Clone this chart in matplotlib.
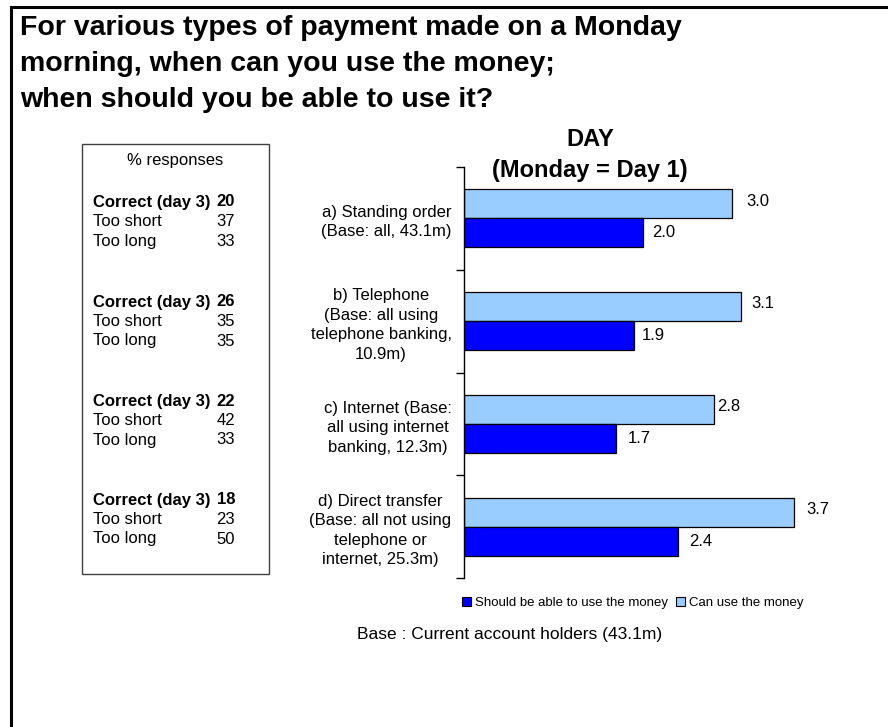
import numpy as np
import matplotlib
matplotlib.use("Agg")
import matplotlib.pyplot as plt
from matplotlib.patches import Rectangle, Patch

plt.rcParams['font.family'] = ['Liberation Sans', 'DejaVu Sans']

# payment types, top to bottom
categories = [
    "a) Standing order\n(Base: all, 43.1m)",
    "b) Telephone\n(Base: all using\ntelephone banking,\n10.9m)",
    "c) Internet (Base:\nall using internet\nbanking, 12.3m)",
    "d) Direct transfer\n(Base: all not using\ntelephone or\ninternet, 25.3m)",
]
can_use = [3.0, 3.1, 2.8, 3.7]
should_use = [2.0, 1.9, 1.7, 2.4]

# % responses panel
correct = [20, 26, 22, 18]
too_short = [37, 35, 42, 23]
too_long = [33, 35, 33, 50]

title_lines = ["For various types of payment made on a Monday",
               "morning, when can you use the money;",
               "when should you be able to use it?"]

LIGHT = "#99CCFF"
DARK = "#0000FF"

W, H = 888, 727
fig = plt.figure(figsize=(W / 100, H / 100), dpi=100)


def fx(x):
    return x / W


def fy(y):
    return 1 - y / H


# outer frame
fig.add_artist(Rectangle((fx(11), fy(H + 10)), fx(W + 20), (H + 3) / H,
                         transform=fig.transFigure, fill=False,
                         edgecolor="black", linewidth=2.2))

for k, line in enumerate(title_lines):
    fig.text(fx(20), fy(28 + 36 * k), line, ha="left", va="center",
             fontsize=20.5, fontweight="bold")

# bar chart
ax_l, ax_r, ax_t, ax_b = 464, 839, 167, 578
ax = fig.add_axes([fx(ax_l), fy(ax_b), fx(ax_r - ax_l), (ax_b - ax_t) / H])
y = np.arange(len(categories))
h = 0.282
ax.barh(y - h / 2, can_use, height=h, color=LIGHT, edgecolor="black", linewidth=0.9)
ax.barh(y + h / 2, should_use, height=h, color=DARK, edgecolor="black", linewidth=0.9)
ax.set_xlim(0, 4.2)
ax.set_ylim(3.5, -0.5)
for s in ["top", "right", "bottom"]:
    ax.spines[s].set_visible(False)
ax.spines["left"].set_linewidth(1.0)
ax.set_xticks([])
ax.set_yticks(y)
ax.set_yticklabels(categories, fontsize=12, multialignment="center", linespacing=1.38)
ax.tick_params(axis="y", which="major", length=0, pad=9)
ax.set_yticks(np.arange(-0.5, 4.0, 1.0), minor=True)
ax.tick_params(axis="y", which="minor", length=6, width=1.0)

# value labels (offsets in pixels)
light_off = [14, 11, 3, 12]
dark_off = [10, 8, 12, 11]
for i in range(len(categories)):
    ax.annotate(f"{can_use[i]:.1f}", (can_use[i], y[i] - h / 2),
                xytext=(light_off[i] * 0.72, 2), textcoords="offset points",
                ha="left", va="center", fontsize=12)
    ax.annotate(f"{should_use[i]:.1f}", (should_use[i], y[i] + h / 2),
                xytext=(dark_off[i] * 0.72, 0), textcoords="offset points",
                ha="left", va="center", fontsize=12)

fig.text(fx(590), fy(139), "DAY", ha="center", va="center", fontsize=17, fontweight="bold")
fig.text(fx(590), fy(171), "(Monday = Day 1)", ha="center", va="center",
         fontsize=17, fontweight="bold")

handles = [Patch(facecolor=DARK, edgecolor="black", linewidth=0.8),
           Patch(facecolor=LIGHT, edgecolor="black", linewidth=0.8)]
fig.legend(handles, ["Should be able to use the money", "Can use the money"],
           loc="center", bbox_to_anchor=(fx(633), fy(603)), ncol=2, frameon=False,
           fontsize=9.5, handlelength=0.7, handleheight=0.7, handletextpad=0.3,
           columnspacing=0.6, borderpad=0)

fig.text(fx(662), fy(634), "Base : Current account holders (43.1m)",
         ha="right", va="center", fontsize=12.5)

# % responses box
fig.add_artist(Rectangle((fx(82), fy(574)), fx(269 - 82), (574 - 144) / H,
                         transform=fig.transFigure, fill=False,
                         edgecolor="#404040", linewidth=1.0))
fig.text(fx(175), fy(160), "% responses", ha="center", va="center", fontsize=12)
starts = [202, 302, 401, 500]
for i, y0 in enumerate(starts):
    rows = [("Correct (day 3)", correct[i], "bold"),
            ("Too short", too_short[i], "normal"),
            ("Too long", too_long[i], "normal")]
    for j, (lab, val, wt) in enumerate(rows):
        yy = fy(y0 + j * 19.5)
        fig.text(fx(93), yy, lab, ha="left", va="center", fontsize=12, fontweight=wt)
        fig.text(fx(235), yy, str(val), ha="right", va="center", fontsize=12, fontweight=wt)

fig.savefig("out.png", dpi=100, facecolor="white")
